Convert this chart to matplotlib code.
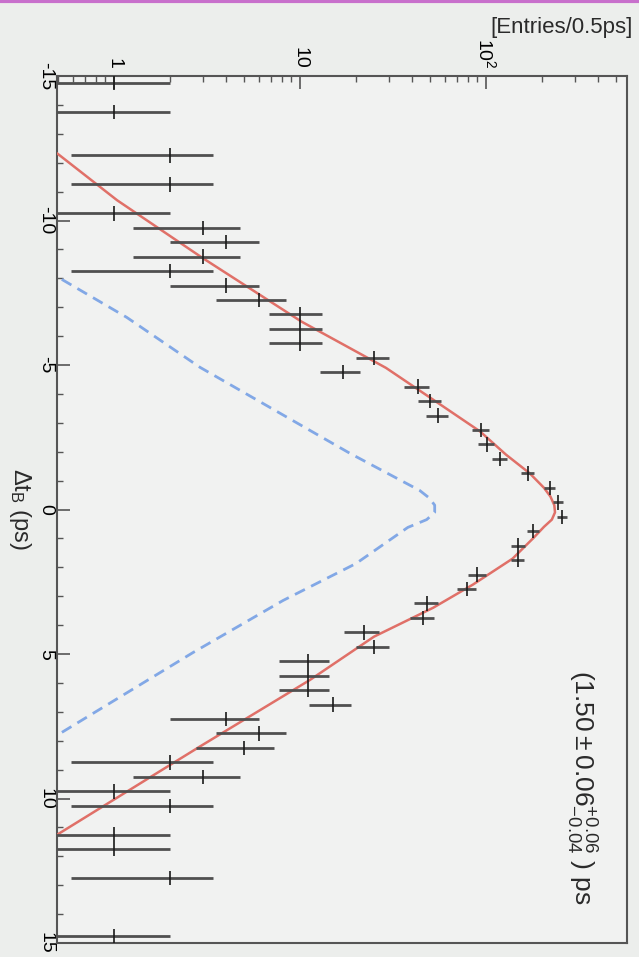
import numpy as np
from matplotlib import pyplot as plt

plt.rcParams['font.family'] = ['Liberation Sans', 'DejaVu Sans']
plt.rcParams['mathtext.fontset'] = 'custom'
plt.rcParams['mathtext.rm'] = 'Liberation Sans'
plt.rcParams['mathtext.it'] = 'Liberation Sans:italic'

# DATA: bin centres (ps) and entries per 0.5 ps bin
dt = [-14.75, -13.75, -12.25, -11.25, -10.25, -9.75, -9.25, -8.75, -8.25, -7.75,
      -7.25, -6.75, -6.25, -5.75, -5.25, -4.75, -4.25, -3.75, -3.25, -2.75,
      -2.25, -1.75, -1.25, -0.75, -0.25, 0.25, 0.75, 1.25, 1.75, 2.25,
      2.75, 3.25, 3.75, 4.25, 4.75, 5.25, 5.75, 6.25, 6.75, 7.25,
      7.75, 8.25, 8.75, 9.25, 9.75, 10.25, 11.25, 11.75, 12.75, 14.75]
entries = [1, 1, 2, 2, 1, 3, 4, 3, 2, 4,
           6, 10, 10, 10, 25, 17, 43, 50, 55, 94,
           101, 119, 168, 221, 244, 256, 179, 149, 148, 90,
           79, 48, 46, 22, 25, 11, 11, 11, 15, 4,
           6, 5, 2, 3, 1, 2, 1, 1, 2, 1]

# fit curve
fit_t = [-13.0, -12.3, -10.7, -8.7, -6.5, -4.9, -3.8, -2.7, -1.9, -1.25, -0.75, -0.45,
         -0.15, 0.1, 0.35, 0.6, 1.0, 1.7, 2.6, 3.4, 4.4, 5.9, 8.2, 11.2, 12.0]
fit_n = [0.34, 0.5, 1.04, 3.0, 10.2, 29, 52, 93, 128, 172, 205, 222,
         233, 235, 226, 205, 179, 139, 85, 52, 25, 11.3, 2.9, 0.51, 0.32]

# background component
bg_t = [-9.0, -8.04, -6.65, -4.92, -1.94, -0.66, -0.4, -0.15, 0.1, 0.35, 0.62, 1.87,
        3.15, 4.95, 7.76, 8.5]
bg_n = [0.3, 0.5, 1.17, 2.9, 18.6, 44, 49.5, 53, 53, 48, 38, 20,
        8.1, 2.66, 0.51, 0.33]

entries = np.array(entries, dtype=float)
err = np.sqrt(entries)
err_lo = entries - np.maximum(entries - err, 1e-3)

fig = plt.figure(figsize=(6.39, 9.57), dpi=100, facecolor='#eceeec')
ax = fig.add_axes([57/639, 1 - 943/957, 570/639, 867/957])
ax.set_facecolor('#f1f2f1')

ax.set_xscale('log')
ax.set_xlim(0.494, 573)
ax.set_ylim(15, -15)

ax.plot(fit_n, fit_t, color='#e07068', lw=1.8, zorder=3)
ax.plot(bg_n, bg_t, color='#82a8e6', lw=2.0, dashes=(4, 2.5), zorder=2)

ax.errorbar(entries, dt, xerr=[err_lo, err], fmt='none', ecolor='#505050',
            elinewidth=2.0, capsize=0, zorder=4)
ax.errorbar(entries, dt, yerr=0.25, fmt='none', ecolor='#1a1a1a',
            elinewidth=1.2, capsize=0, zorder=5)

# axes styling
for s in ax.spines.values():
    s.set_color('#555555')
    s.set_linewidth(1.5)
ax.xaxis.set_ticks_position('top')
ax.yaxis.set_ticks_position('left')
ax.set_xticks([1, 10, 100])
ax.set_xticklabels(['1', '10', r'$\mathregular{10^{2}}$'], rotation=270, fontsize=14)
ax.set_yticks([-15, -10, -5, 0, 5, 10, 15])
ax.set_yticklabels(['-15', '-10', '-5', '0', '5', '10', '15'], rotation=270,
                   fontsize=14, va='center')
ax.set_yticks(np.arange(-15, 16, 1), minor=True)
ax.tick_params(which='major', direction='in', length=9, width=1.2, color='#555555')
ax.tick_params(which='minor', direction='in', length=4, width=1.0, color='#555555')
ax.tick_params(axis='y', which='major', pad=2)
ax.tick_params(axis='x', which='major', pad=5)

fig.text(633/639, 1 - 28/957, '[Entries/0.5ps]', ha='right', va='center', fontsize=16,
         color='#2a2a2a')
fig.text(20/639, 1 - 509/957, r'$\mathregular{\Delta t_{B}}$ (ps)', rotation=270,
         ha='center', va='center', fontsize=17, color='#2a2a2a')
ax.text(0.919, 0.179, r'$\mathregular{(1.50 \pm 0.06^{+0.06}_{-0.04}\ )\ ps}$',
        rotation=270, ha='center', va='center', fontsize=19, color='#2a2a2a',
        transform=ax.transAxes)

fig.add_artist(plt.Line2D([0, 1], [0.9985, 0.9985], color='#c870cc', lw=3,
                          transform=fig.transFigure))

fig.savefig('out.png', dpi=100, facecolor=fig.get_facecolor())
